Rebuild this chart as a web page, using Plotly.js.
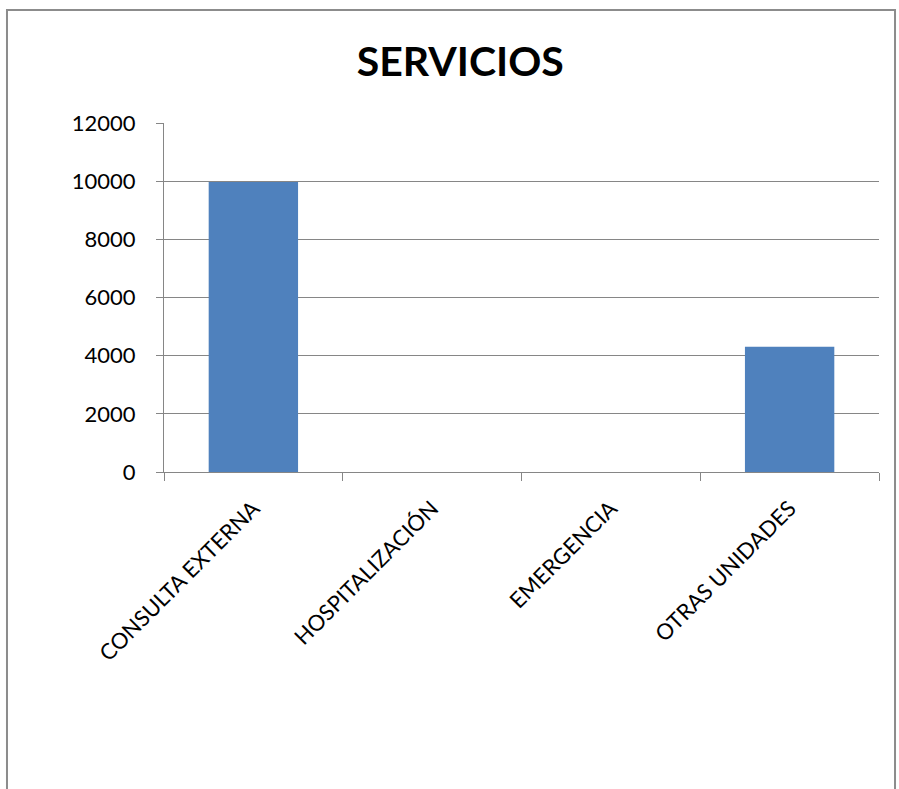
<!DOCTYPE html>
<html>
<head>
<meta charset="utf-8">
<script src="https://cdn.plot.ly/plotly-3.0.1.min.js"></script>
<style>html,body{margin:0;padding:0;background:#fff;}#chart{width:899px;height:789px;}</style>
</head>
<body>
<div id="chart"></div>
<script>
const categories = ["CONSULTA EXTERNA", "HOSPITALIZACIÓN", "EMERGENCIA", "OTRAS UNIDADES"];
const values = [9970, 0, 0, 4310];
const yTicks = [0, 2000, 4000, 6000, 8000, 10000, 12000];

const frameColor = "#8c8c8c";
const axisColor = "#868686";

Plotly.newPlot("chart", [{
  type: "bar",
  x: categories,
  y: values,
  marker: {color: "#4F81BD", line: {width: 0}},
  hoverinfo: "x+y"
}], {
  width: 899, height: 789,
  margin: {l: 164, r: 20, t: 123, b: 317},
  paper_bgcolor: "#ffffff",
  plot_bgcolor: "#ffffff",
  font: {family: "Lato, 'Open Sans', sans-serif", color: "#000000", size: 22},
  title: {text: "<b>SERVICIOS</b>", font: {size: 41, color: "#000"}, x: 0.512, xanchor: "center", y: 0.922, yanchor: "middle"},
  bargap: 0.5,
  showlegend: false,
  xaxis: {
    type: "category",
    tickangle: -45,
    tickson: "boundaries",
    ticks: "outside",
    ticklen: 8,
    tickcolor: axisColor,
    showline: true,
    linecolor: axisColor,
    linewidth: 1,
    showgrid: false,
    ticklabelstandoff: 14,
    tickfont: {size: 22}
  },
  yaxis: {
    range: [0, 12000],
    tickvals: yTicks,
    ticktext: yTicks.map(String),
    ticks: "outside",
    ticklen: 7,
    tickcolor: axisColor,
    showline: true,
    linecolor: axisColor,
    showgrid: true,
    gridcolor: axisColor,
    gridwidth: 1,
    zeroline: false,
    ticklabelstandoff: 16,
    tickfont: {size: 22}
  },
  shapes: [{
    type: "path",
    xref: "paper", yref: "paper",
    path: "M -0.2196 -0.91 L -0.2196 1.3238 L 1.0224 1.3238 L 1.0224 -0.91",
    line: {color: frameColor, width: 2}
  }]
}, {displayModeBar: false, staticPlot: true});
</script>
</body>
</html>
